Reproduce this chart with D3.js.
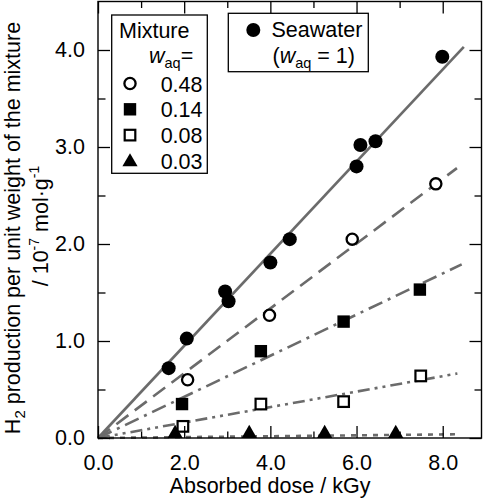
<!DOCTYPE html>
<html><head><meta charset="utf-8">
<script src="https://cdn.jsdelivr.net/npm/d3@7"></script>
<style>
body{margin:0;background:#fff;}
text{font-family:"Liberation Sans",Arial,Helvetica,sans-serif;fill:#000;}
</style></head>
<body><svg id="c" width="484" height="500"></svg>
<script>
// ---- data ----
const seawaterX = [1.64, 2.06, 2.95, 3.03, 4.0, 4.45, 6.0, 6.09, 6.44, 7.99];
const seawaterY = [0.72, 1.025, 1.51, 1.41, 1.81, 2.05, 2.80, 3.02, 3.06, 3.93];
const w048X = [2.08, 3.98, 5.9, 7.84];
const w048Y = [0.60, 1.265, 2.05, 2.62];
const w014X = [1.95, 3.78, 5.7, 7.47];
const w014Y = [0.35, 0.895, 1.20, 1.53];
const w008X = [1.97, 3.78, 5.7, 7.49];
const w008Y = [0.12, 0.35, 0.375, 0.64];
const w003X = [1.79, 3.51, 5.26, 6.91];
const w003Y = [0.045, 0.045, 0.045, 0.045];
const seriesNames = ["1", "0.48", "0.14", "0.08", "0.03"];
const fitSlopes = [0.475, 0.334, 0.212, 0.0797, 0.0046];
const fitEndX = [8.49, 8.33, 8.44, 8.34, 8.34];
const xMajorTicks = [0, 2, 4, 6, 8];
const xMinorTicks = [1, 3, 5, 7];
const yMajorTicks = [0, 1, 2, 3, 4];
const yMinorTicks = [0.5, 1.5, 2.5, 3.5];
const legendLabels = ["0.48", "0.14", "0.08", "0.03"];

// ---- chart ----
const svg = d3.select("#c");
const L = 98, R = 481.5, T = 1.5, B = 438;
const x = d3.scaleLinear().domain([0, 8.9]).range([L, R]);
const y = d3.scaleLinear().domain([0, 4.5]).range([B, T]);
const FS = 21.5;

const series = [
  {xs: seawaterX, ys: seawaterY, sym: "fcircle", dash: null},
  {xs: w048X, ys: w048Y, sym: "ocircle", dash: "15,8"},
  {xs: w014X, ys: w014Y, sym: "fsquare", dash: "15,6,3,6"},
  {xs: w008X, ys: w008Y, sym: "osquare", dash: "12,5,3,5,3,5"},
  {xs: w003X, ys: w003Y, sym: "ftri", dash: "5,6"}
];

// fit lines
series.forEach((s, i) => {
  svg.append("line")
    .attr("x1", x(0)).attr("y1", y(0))
    .attr("x2", x(fitEndX[i])).attr("y2", y(fitSlopes[i] * fitEndX[i]))
    .attr("stroke", "#6b6b6b").attr("stroke-width", 2.6)
    .attr("stroke-dasharray", s.dash);
});

function drawSym(g, type, cx, cy) {
  if (type === "fcircle") {
    g.append("circle").attr("cx", cx).attr("cy", cy).attr("r", 7).attr("fill", "#000");
  } else if (type === "ocircle") {
    g.append("circle").attr("cx", cx).attr("cy", cy).attr("r", 5.6)
      .attr("fill", "#fff").attr("stroke", "#000").attr("stroke-width", 2.3);
  } else if (type === "fsquare") {
    g.append("rect").attr("x", cx - 6.2).attr("y", cy - 6.2).attr("width", 12.4).attr("height", 12.4).attr("fill", "#000");
  } else if (type === "osquare") {
    g.append("rect").attr("x", cx - 5.3).attr("y", cy - 5.3).attr("width", 10.6).attr("height", 10.6)
      .attr("fill", "#fff").attr("stroke", "#000").attr("stroke-width", 2.2);
  } else if (type === "ftri") {
    g.append("path").attr("transform", `translate(${cx},${cy})`)
      .attr("d", d3.symbol().type(d3.symbolTriangle).size(100)()).attr("fill", "#000");
  }
}

const gm = svg.append("g");
series.forEach(s => {
  s.xs.forEach((v, j) => drawSym(gm, s.sym, x(v), y(s.ys[j])));
});

// axes
function styleAxis(g) {
  g.select(".domain").remove();
  g.selectAll(".tick line").attr("stroke", "#000").attr("stroke-width", 1.3);
  g.selectAll(".tick text").style("font-size", FS + "px").style("font-family", '"Liberation Sans",Arial,sans-serif');
}
const fmt = d3.format(".1f");
svg.append("g").attr("transform", `translate(0,${B})`)
  .call(d3.axisBottom(x).tickValues(xMajorTicks).tickFormat(fmt).tickSize(-12).tickPadding(17)).call(styleAxis);
svg.append("g").attr("transform", `translate(0,${B})`)
  .call(d3.axisBottom(x).tickValues(xMinorTicks).tickFormat("").tickSize(-6.5)).call(styleAxis);
svg.append("g").attr("transform", `translate(0,${T})`)
  .call(d3.axisTop(x).tickValues(xMajorTicks).tickFormat("").tickSize(-12)).call(styleAxis);
svg.append("g").attr("transform", `translate(0,${T})`)
  .call(d3.axisTop(x).tickValues(xMinorTicks).tickFormat("").tickSize(-6.5)).call(styleAxis);
svg.append("g").attr("transform", `translate(${L},0)`)
  .call(d3.axisLeft(y).tickValues(yMajorTicks).tickFormat(fmt).tickSize(-12).tickPadding(13)).call(styleAxis);
svg.append("g").attr("transform", `translate(${L},0)`)
  .call(d3.axisLeft(y).tickValues(yMinorTicks).tickFormat("").tickSize(-7.5)).call(styleAxis);
svg.append("g").attr("transform", `translate(${R},0)`)
  .call(d3.axisRight(y).tickValues(yMajorTicks).tickFormat("").tickSize(-12)).call(styleAxis);
svg.append("g").attr("transform", `translate(${R},0)`)
  .call(d3.axisRight(y).tickValues(yMinorTicks).tickFormat("").tickSize(-7)).call(styleAxis);

svg.append("rect").attr("x", L).attr("y", T).attr("width", R - L).attr("height", B - T)
  .attr("fill", "none").attr("stroke", "#000").attr("stroke-width", 1.4);

// axis titles
svg.append("text").attr("x", 270).attr("y", 493).attr("text-anchor", "middle")
  .style("font-size", FS + "px").text("Absorbed dose / kGy");

const yl1 = svg.append("text").attr("transform", "translate(19.5,228) rotate(-90)")
  .attr("text-anchor", "middle").style("font-size", "21.5px");
yl1.append("tspan").text("H");
yl1.append("tspan").attr("dy", 5).style("font-size", "15px").text("2");
yl1.append("tspan").attr("dy", -5).text(" production per unit weight of the mixture");

const yl2 = svg.append("text").attr("transform", "translate(47.5,226) rotate(-90)")
  .attr("text-anchor", "middle").style("font-size", "21.5px");
yl2.append("tspan").text("/ 10");
yl2.append("tspan").attr("dy", -9).style("font-size", "14px").text("-7");
yl2.append("tspan").attr("dy", 9).text(" mol\u00b7g");
yl2.append("tspan").attr("dy", -9).style("font-size", "14px").text("-1");

// legend 1 (mixture)
const lg1 = svg.append("g");
lg1.append("rect").attr("x", 111.7).attr("y", 15).attr("width", 95.6).attr("height", 158.3)
  .attr("fill", "#fff").attr("stroke", "#000").attr("stroke-width", 1.3);
lg1.append("text").attr("x", 119).attr("y", 37.5).style("font-size", FS + "px").text("Mixture");
const wt = lg1.append("text").attr("x", 149).attr("y", 63).style("font-size", FS + "px");
wt.append("tspan").style("font-style", "italic").text("w");
wt.append("tspan").attr("dy", 5).style("font-size", "14.5px").text("aq");
wt.append("tspan").attr("dy", -5).text("=");
const rowSyms = ["ocircle", "fsquare", "osquare", "ftri"];
legendLabels.forEach((lab, i) => {
  const cy = 83.5 + i * 25.8;
  drawSym(lg1, rowSyms[i], 130, rowSyms[i] === "ftri" ? cy + 1 : cy);
  lg1.append("text").attr("x", 202.5).attr("y", cy + 8).attr("text-anchor", "end")
    .style("font-size", FS + "px").text(lab);
});

// legend 2 (seawater)
const lg2 = svg.append("g");
lg2.append("rect").attr("x", 228.3).attr("y", 13.3).attr("width", 140).attr("height", 58.4)
  .attr("fill", "#fff").attr("stroke", "#000").attr("stroke-width", 1.3);
drawSym(lg2, "fcircle", 253.3, 30);
lg2.append("text").attr("x", 271.5).attr("y", 37).style("font-size", FS + "px").text("Seawater");
const st = lg2.append("text").attr("x", 272.5).attr("y", 63.3).style("font-size", FS + "px");
st.append("tspan").text("(");
st.append("tspan").style("font-style", "italic").text("w");
st.append("tspan").attr("dy", 5).style("font-size", "14.5px").text("aq");
st.append("tspan").attr("dy", -5).text(" = " + seriesNames[0] + ")");
</script></body></html>
